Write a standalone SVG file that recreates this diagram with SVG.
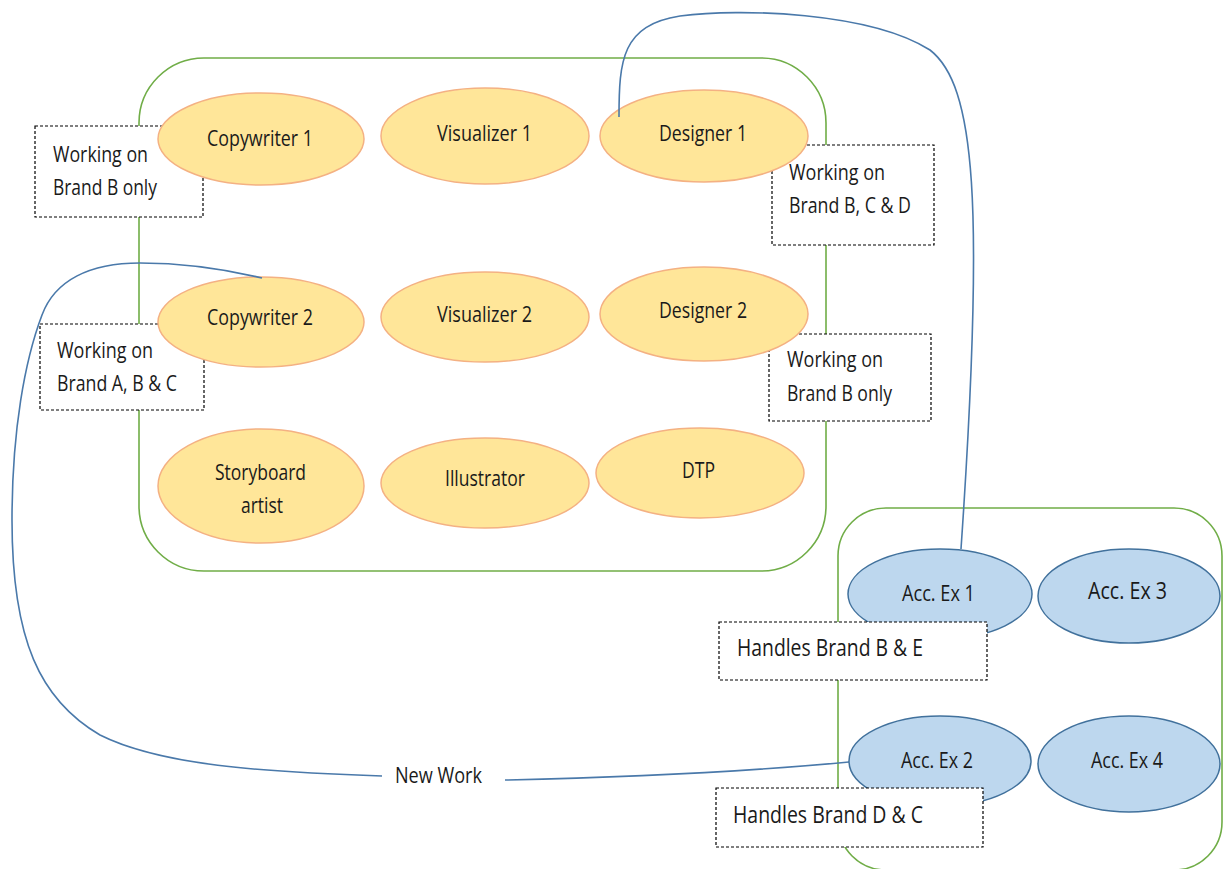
<svg xmlns="http://www.w3.org/2000/svg" width="1227" height="869" viewBox="0 0 1227 869">
  <style>
    .group { fill: none; stroke: #70AD47; stroke-width: 1.6; }
    .role { fill: #FFE699; stroke: #F4B183; stroke-width: 1.5; }
    .acc { fill: #BDD7EE; stroke: #41719C; stroke-width: 1.5; }
    .note { fill: #FFFFFF; stroke: #000000; stroke-width: 1.2; stroke-dasharray: 3 2; }
    .link { fill: none; stroke: #4A79AA; stroke-width: 1.6; }
    text { font-family: "Open Sans", "Liberation Sans", sans-serif; font-size: 21px; fill: #1A1A1A; }
    .big { font-size: 23px; }
  </style>

  <rect width="1227" height="869" fill="#FFFFFF"/>

  <!-- team containers -->
  <g id="creative-team">
    <rect class="group" x="139" y="58" width="687" height="513" rx="65" ry="65"/>
  </g>
  <g id="account-team">
    <rect class="group" x="838" y="508" width="384" height="362" rx="48" ry="48"/>
  </g>

  <!-- notes behind the creative roles -->
  <g id="note-copywriter1">
    <rect class="note" x="35" y="126" width="168" height="91"/>
    <text x="53" y="162" textLength="95" lengthAdjust="spacingAndGlyphs">Working on</text>
    <text x="53" y="195" textLength="104" lengthAdjust="spacingAndGlyphs">Brand B only</text>
  </g>
  <g id="note-designer1">
    <rect class="note" x="772" y="145" width="162" height="100"/>
    <text x="789" y="180" textLength="96" lengthAdjust="spacingAndGlyphs">Working on</text>
    <text x="789" y="213" textLength="122" lengthAdjust="spacingAndGlyphs">Brand B, C &amp; D</text>
  </g>
  <g id="note-copywriter2">
    <rect class="note" x="40" y="324" width="164" height="86"/>
    <text x="57" y="358" textLength="96" lengthAdjust="spacingAndGlyphs">Working on</text>
    <text x="57" y="391" textLength="120" lengthAdjust="spacingAndGlyphs">Brand A, B &amp; C</text>
  </g>
  <g id="note-designer2">
    <rect class="note" x="769" y="334" width="162" height="87"/>
    <text x="787" y="367" textLength="96" lengthAdjust="spacingAndGlyphs">Working on</text>
    <text x="787" y="401" textLength="105" lengthAdjust="spacingAndGlyphs">Brand B only</text>
  </g>

  <!-- creative roles -->
  <g id="copywriter1">
    <ellipse class="role" cx="261" cy="139" rx="103" ry="46"/>
    <text x="207" y="146" textLength="106" lengthAdjust="spacingAndGlyphs">Copywriter 1</text>
  </g>
  <g id="visualizer1">
    <ellipse class="role" cx="485" cy="136" rx="104" ry="48"/>
    <text x="437" y="141" textLength="95" lengthAdjust="spacingAndGlyphs">Visualizer 1</text>
  </g>
  <g id="designer1">
    <ellipse class="role" cx="704" cy="136" rx="104" ry="46"/>
    <text x="659" y="141" textLength="88" lengthAdjust="spacingAndGlyphs">Designer 1</text>
  </g>
  <g id="copywriter2">
    <ellipse class="role" cx="261" cy="322" rx="103" ry="45"/>
    <text x="207" y="325" textLength="106" lengthAdjust="spacingAndGlyphs">Copywriter 2</text>
  </g>
  <g id="visualizer2">
    <ellipse class="role" cx="485" cy="317" rx="104" ry="45"/>
    <text x="437" y="322" textLength="95" lengthAdjust="spacingAndGlyphs">Visualizer 2</text>
  </g>
  <g id="designer2">
    <ellipse class="role" cx="704" cy="314" rx="104" ry="47"/>
    <text x="659" y="318" textLength="88" lengthAdjust="spacingAndGlyphs">Designer 2</text>
  </g>
  <g id="storyboard-artist">
    <ellipse class="role" cx="261" cy="486" rx="103" ry="57"/>
    <text x="215" y="480" textLength="91" lengthAdjust="spacingAndGlyphs">Storyboard</text>
    <text x="241" y="513" textLength="42" lengthAdjust="spacingAndGlyphs">artist</text>
  </g>
  <g id="illustrator">
    <ellipse class="role" cx="485" cy="483" rx="104" ry="45"/>
    <text x="445" y="486" textLength="80" lengthAdjust="spacingAndGlyphs">Illustrator</text>
  </g>
  <g id="dtp">
    <ellipse class="role" cx="700" cy="473" rx="104" ry="45"/>
    <text x="682" y="478" textLength="33" lengthAdjust="spacingAndGlyphs">DTP</text>
  </g>

  <!-- connectors -->
  <g id="connectors">
    <path class="link" d="M619,117 C619,60 622,25 680,16 C740,8 870,12 930,50 C975,85 985,200 961,549"/>
    <path class="link" d="M262,278 C220,268 180,263 140,263 C90,263 55,280 42,315 C25,360 12,430 12,520 C12,640 40,700 100,735 C160,765 260,772 382,776"/>
    <path class="link" d="M505,780 Q700,776 849,762"/>
    <text x="395" y="783" textLength="87" lengthAdjust="spacingAndGlyphs">New Work</text>
  </g>

  <!-- account executives -->
  <g id="acc-ex1">
    <ellipse class="acc" cx="940" cy="594" rx="92" ry="45"/>
    <text x="902" y="601" textLength="73" lengthAdjust="spacingAndGlyphs">Acc. Ex 1</text>
  </g>
  <g id="acc-ex3">
    <ellipse class="acc" cx="1129" cy="596" rx="91" ry="47"/>
    <text class="big" x="1088" y="599" textLength="79" lengthAdjust="spacingAndGlyphs">Acc. Ex 3</text>
  </g>
  <g id="acc-ex2">
    <ellipse class="acc" cx="940" cy="761" rx="91" ry="45"/>
    <text x="901" y="768" textLength="72" lengthAdjust="spacingAndGlyphs">Acc. Ex 2</text>
  </g>
  <g id="acc-ex4">
    <ellipse class="acc" cx="1129" cy="764" rx="91" ry="48"/>
    <text x="1091" y="768" textLength="72" lengthAdjust="spacingAndGlyphs">Acc. Ex 4</text>
  </g>

  <!-- notes on top of the account executives -->
  <g id="note-acc-ex1">
    <rect class="note" x="719" y="622" width="268" height="58"/>
    <text class="big" x="737" y="656" textLength="186" lengthAdjust="spacingAndGlyphs">Handles Brand B &amp; E</text>
  </g>
  <g id="note-acc-ex2">
    <rect class="note" x="716" y="788" width="267" height="59"/>
    <text class="big" x="733" y="823" textLength="190" lengthAdjust="spacingAndGlyphs">Handles Brand D &amp; C</text>
  </g>
</svg>
